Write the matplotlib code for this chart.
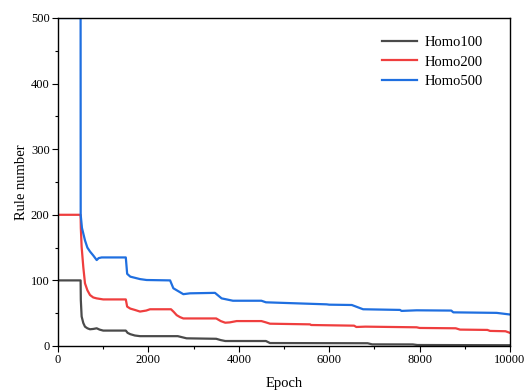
import matplotlib
matplotlib.use('Agg')
import matplotlib.pyplot as plt
from matplotlib.ticker import MultipleLocator

# data
e100 = [0, 500, 505, 523, 560, 597, 650, 708, 780, 856, 920, 1000, 1500, 1540, 1600, 1700, 1814, 2650, 2845, 3500,
        3600, 3700, 4600, 4690, 6850, 6950, 7850, 7950, 10000]
v100 = [100, 100, 70, 45, 35, 29.5, 27, 25.5, 26, 27, 25, 23.5, 23.5, 20, 18, 16, 15, 15, 11.7, 11,
        9, 7.6, 7.6, 4.5, 4.2, 2.5, 2.4, 1.5, 1.2]

e200 = [0, 500, 505, 523, 560, 597, 650, 708, 780, 856, 1000, 1500, 1530, 1600, 1700, 1814, 1950, 2036, 2500, 2560,
        2626, 2700, 2773, 3500, 3600, 3700, 3800, 3953, 4500, 4600, 4690, 5575, 5600, 6550, 6600, 6800, 7935, 8000,
        8800, 8894, 9500, 9558, 9900, 10000]
v200 = [200, 200, 180, 151, 120, 95.5, 85, 77.7, 74, 72.6, 71, 71, 60, 57, 55, 52.5, 54, 56, 56, 52,
        47, 44, 42, 42, 38, 35.5, 36, 38, 38, 36, 34, 33, 32, 31, 29, 29.5, 28.5, 27.5,
        27, 25, 24.5, 23, 22.5, 20]

e500 = [0, 500, 502, 530, 597, 650, 708, 780, 856, 900, 966, 1500, 1530, 1600, 1814, 1960, 2480, 2552, 2650, 2773,
        2920, 3473, 3560, 3620, 3870, 4500, 4600, 5944, 6000, 6500, 6750, 7566, 7600, 7935, 8700, 8746, 9705, 10000]
v500 = [500, 500, 200, 180, 161, 150, 144, 138, 131, 134, 135, 135, 110, 105.7, 102, 100.6, 100, 88, 84, 79,
        80.3, 81, 76, 72.6, 69, 69, 66.6, 63.5, 63, 62.5, 56, 55, 53.5, 54.4, 54, 51.3, 50.5, 48]

labels = ['Homo100', 'Homo200', 'Homo500']
colors = ['#4a4a4a', '#ef3e3e', '#1f6fe0']

plt.rcParams['font.family'] = ['Liberation Serif', 'DejaVu Serif']

fig = plt.figure(figsize=(5.25, 3.9), dpi=100)
ax = fig.add_axes([58 / 525, 44 / 390, 452 / 525, 328 / 390])

for e, v, lab, c in zip([e100, e200, e500], [v100, v200, v500], labels, colors):
    ax.plot(e, v, color=c, lw=1.6, label=lab)

ax.set_xlim(0, 10000)
ax.set_ylim(0, 500)
ax.xaxis.set_major_locator(MultipleLocator(2000))
ax.xaxis.set_minor_locator(MultipleLocator(1000))
ax.yaxis.set_major_locator(MultipleLocator(100))
ax.yaxis.set_minor_locator(MultipleLocator(50))
ax.tick_params(which='major', direction='out', length=4, width=0.8, labelsize=9, pad=2)
ax.tick_params(which='minor', direction='out', length=2.5, width=0.8)
for s in ax.spines.values():
    s.set_linewidth(1.0)

ax.set_xlabel('Epoch', fontsize=10.5, labelpad=8)
ax.set_ylabel('Rule number', fontsize=10.5, labelpad=2)

ax.legend(loc='upper left', bbox_to_anchor=(0.717, 0.945), frameon=False, fontsize=10.5,
          handlelength=2.4, handletextpad=0.55, labelspacing=0.42, borderpad=0, borderaxespad=0)

fig.savefig('out.png', dpi=100)
